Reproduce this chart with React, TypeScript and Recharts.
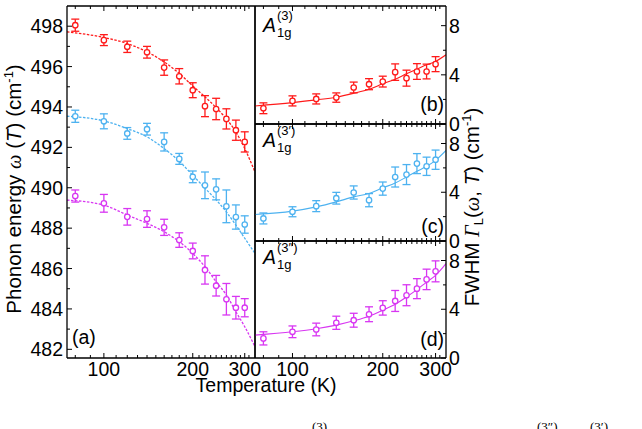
import React from 'react';
import { ComposedChart, XAxis, YAxis, Scatter, Line, ErrorBar } from 'recharts';

const SANS = '"Liberation Sans", Arial, sans-serif';
const SERIF = '"Liberation Serif", "Times New Roman", serif';

const RED = '#ff1a1a';
const BLUE = '#4db2f0';
const MAGENTA = '#d836f2';

// Measured temperatures (K)
const temps = [80, 100, 120, 140, 160, 180, 200, 220, 240, 260, 280, 300];
// Temperatures at which the fitted curves are sampled
const fitTemps = [75, 100, 120, 140, 160, 180, 200, 220, 240, 260, 280, 300, 325];

// Phonon energy omega(T), cm^-1
const omega3 = [498.05, 497.31, 496.98, 496.71, 495.95, 495.52, 494.83, 494.04, 493.9, 493.41, 492.85, 492.27];
const omega3Err = [0.3, 0.27, 0.28, 0.29, 0.38, 0.38, 0.37, 0.52, 0.53, 0.5, 0.5, 0.5];
const omega3Fit = [497.72, 497.44, 497.14, 496.73, 496.23, 495.66, 495.04, 494.5, 493.97, 493.41, 492.76, 491.94, 490.78];

const omega3p = [493.54, 493.29, 492.69, 492.9, 492.27, 491.43, 490.54, 490.12, 489.92, 489.08, 488.55, 488.18];
const omega3pErr = [0.3, 0.37, 0.29, 0.29, 0.45, 0.27, 0.29, 0.66, 0.52, 0.81, 0.6, 0.43];
const omega3pFit = [493.54, 493.31, 492.93, 492.52, 491.94, 491.31, 490.62, 489.98, 489.4, 488.8, 488.15, 487.5, 486.75];

const omega3pp = [489.59, 489.23, 488.56, 488.45, 488.04, 487.41, 486.87, 485.93, 485.15, 484.48, 484.06, 484.06];
const omega3ppErr = [0.3, 0.44, 0.41, 0.41, 0.4, 0.36, 0.39, 0.7, 0.51, 0.78, 0.56, 0.45];
const omega3ppFit = [489.39, 489.14, 488.65, 488.24, 487.82, 487.33, 486.75, 486.09, 485.35, 484.69, 483.86, 483.12, 482.13];

// Linewidth (FWHM), cm^-1
const gamma3 = [1.28, 1.88, 2.04, 2.15, 2.97, 3.24, 3.45, 4.22, 3.73, 4.27, 4.27, 4.87];
const gamma3Err = [0.44, 0.41, 0.41, 0.38, 0.44, 0.45, 0.44, 0.67, 0.65, 0.64, 0.6, 0.61];
const gamma3Fit = [1.47, 1.74, 1.96, 2.18, 2.5, 2.83, 3.27, 3.65, 4.08, 4.46, 4.82, 5.09, 5.63];

const gamma3p = [1.85, 2.4, 2.86, 3.51, 3.98, 3.35, 4.3, 5.25, 5.45, 6.35, 6.13, 6.67];
const gamma3pErr = [0.45, 0.41, 0.45, 0.48, 0.54, 0.54, 0.54, 0.82, 0.82, 0.82, 0.75, 0.79];
const gamma3pFit = [2.18, 2.45, 2.8, 3.21, 3.62, 3.9, 4.36, 4.76, 5.25, 5.72, 6.13, 6.62, 7.43];

const gamma3pp = [1.61, 2.15, 2.34, 2.89, 3.1, 3.59, 4.11, 4.68, 5.15, 5.69, 6.45, 7.11];
const gamma3ppErr = [0.54, 0.48, 0.52, 0.54, 0.57, 0.61, 0.59, 0.86, 0.86, 0.82, 0.84, 0.86];
const gamma3ppFit = [1.88, 2.15, 2.4, 2.7, 3.05, 3.43, 3.92, 4.41, 5.01, 5.61, 6.23, 6.78, 7.74];

// Axis ticks
const tempTicks = [80, 90, 100, 110, 120, 130, 140, 150, 160, 170, 180, 190, 200, 210, 220, 230, 240, 250, 260, 270, 280, 290, 300, 310];
const tempLabels = [100, 200, 300];
const omegaTicks = [482, 483, 484, 485, 486, 487, 488, 489, 490, 491, 492, 493, 494, 495, 496, 497, 498];
const omegaLabels = [482, 484, 486, 488, 490, 492, 494, 496, 498];
const gammaTicks = [0, 2, 4, 6, 8];
const gammaLabels = [0, 4, 8];

const T_DOMAIN: [number, number] = [75, 325];
const OMEGA_DOMAIN: [number, number] = [481.57, 499];
const GAMMA_DOMAIN: [number, number] = [0, 9.6];

const FS = 19.5; // tick labels and panel tags
const FS_TITLE = 20.5; // axis titles

type Row = { T: number; v: number; e: number };
const toRows = (t: number[], v: number[], e?: number[]): Row[] =>
  t.map((T, i) => ({ T, v: v[i], e: e ? e[i] : 0 }));

const AXIS_LINE = { stroke: '#000', strokeWidth: 1.3 };

const ring = (color: string) => (p: any) =>
  <circle cx={p.cx} cy={p.cy} r={2.7} fill="#fff" stroke={color} strokeWidth={1.3} />;

const BottomTick = (p: any) => {
  const major = tempLabels.includes(p.payload.value);
  return (
    <g>
      <path d={`M${p.x},${p.y}V${p.y - (major ? 5 : 3)}`} stroke="#000" strokeWidth={1} fill="none" />
      {p.showLabels && major && (
        <text x={p.x} y={p.y + 18} textAnchor="middle" fontSize={FS} fontFamily={SANS} fill="#000">
          {p.payload.value}
        </text>
      )}
    </g>
  );
};

const TopTick = (p: any) => {
  const major = tempLabels.includes(p.payload.value);
  return <path d={`M${p.x},${p.y}V${p.y + (major ? 5 : 3)}`} stroke="#000" strokeWidth={1} fill="none" />;
};

const LeftTick = (p: any) => {
  const major = omegaLabels.includes(p.payload.value);
  return (
    <g>
      <path d={`M${p.x},${p.y}H${p.x + (major ? 5 : 3)}`} stroke="#000" strokeWidth={1} fill="none" />
      {major && (
        <text x={p.x - 4} y={p.y + 7} textAnchor="end" fontSize={FS} fontFamily={SANS} fill="#000">
          {p.payload.value}
        </text>
      )}
    </g>
  );
};

const RightTick = (p: any) => {
  const major = gammaLabels.includes(p.payload.value);
  return (
    <g>
      <path d={`M${p.x},${p.y}H${p.x - (major ? 5 : 3)}`} stroke="#000" strokeWidth={1} fill="none" />
      {major && (
        <text x={p.x + 3} y={p.y + 7} textAnchor="start" fontSize={FS} fontFamily={SANS} fill="#000">
          {p.payload.value}
        </text>
      )}
    </g>
  );
};

type Series = { color: string; v: number[]; e: number[]; fit: number[] };

const omegaSeries: Series[] = [
  { color: RED, v: omega3, e: omega3Err, fit: omega3Fit },
  { color: BLUE, v: omega3p, e: omega3pErr, fit: omega3pFit },
  { color: MAGENTA, v: omega3pp, e: omega3ppErr, fit: omega3ppFit },
];

// Left panel: plot area x 67..255, y 6..358
function EnergyPanel() {
  return (
    <ComposedChart width={262} height={429} margin={{ top: 5, right: 6, bottom: 0, left: 0 }}>
      <XAxis xAxisId="b" dataKey="T" type="number" scale="log" domain={T_DOMAIN} allowDataOverflow
        ticks={tempTicks} interval={0} height={71} tickSize={0} tickMargin={0} stroke="#000"
        axisLine={AXIS_LINE} tick={<BottomTick showLabels />} />
      <XAxis xAxisId="t" orientation="top" dataKey="T" type="number" scale="log" domain={T_DOMAIN} allowDataOverflow
        ticks={tempTicks} interval={0} height={1} tickSize={0} tickMargin={0} stroke="#000"
        axisLine={AXIS_LINE} tick={<TopTick />} />
      <YAxis yAxisId="l" type="number" domain={OMEGA_DOMAIN} allowDataOverflow ticks={omegaTicks} interval={0}
        width={67} tickSize={0} tickMargin={0} stroke="#000" axisLine={AXIS_LINE} tick={<LeftTick />} />
      <YAxis yAxisId="r" orientation="right" type="number" domain={OMEGA_DOMAIN} allowDataOverflow
        ticks={[490]} width={1} tickSize={0} stroke="#000" axisLine={AXIS_LINE} tick={false} />
      {omegaSeries.map((s, i) => (
        <Line key={'f' + i} xAxisId="b" yAxisId="l" data={toRows(fitTemps, s.fit)} dataKey="v" type="monotone"
          stroke={s.color} strokeWidth={1.3} strokeDasharray="2.5 1.5" dot={false} isAnimationActive={false} />
      ))}
      {omegaSeries.map((s, i) => (
        <Scatter key={'p' + i} xAxisId="b" yAxisId="l" data={toRows(temps, s.v, s.e)} dataKey="v"
          shape={ring(s.color)} isAnimationActive={false}>
          <ErrorBar dataKey="e" direction="y" width={4} stroke={s.color} strokeWidth={1.3} />
        </Scatter>
      ))}
    </ComposedChart>
  );
}

// Right panels: plot area x 255..446, y top..bottom
function WidthPanel({ top, bottom, series, showLabels }: { top: number; bottom: number; series: Series; showLabels: boolean }) {
  const xHeight = showLabels ? 429 - bottom : 1;
  return (
    <ComposedChart width={642} height={429}
      margin={{ top: top - 1, right: 156, bottom: showLabels ? 0 : 429 - bottom - 1, left: 254 }}>
      <XAxis xAxisId="b" dataKey="T" type="number" scale="log" domain={T_DOMAIN} allowDataOverflow
        ticks={tempTicks} interval={0} height={xHeight} tickSize={0} tickMargin={0} stroke="#000"
        axisLine={AXIS_LINE} tick={<BottomTick showLabels={showLabels} />} />
      <XAxis xAxisId="t" orientation="top" dataKey="T" type="number" scale="log" domain={T_DOMAIN} allowDataOverflow
        ticks={tempTicks} interval={0} height={1} tickSize={0} tickMargin={0} stroke="#000"
        axisLine={AXIS_LINE} tick={<TopTick />} />
      <YAxis yAxisId="r" orientation="right" type="number" domain={GAMMA_DOMAIN} allowDataOverflow
        ticks={gammaTicks} interval={0} width={40} tickSize={0} tickMargin={0} stroke="#000"
        axisLine={AXIS_LINE} tick={<RightTick />} />
      <YAxis yAxisId="l" type="number" domain={GAMMA_DOMAIN} allowDataOverflow ticks={[4]} width={1}
        tickSize={0} stroke="#000" axisLine={AXIS_LINE} tick={false} />
      <Line xAxisId="b" yAxisId="r" data={toRows(fitTemps, series.fit)} dataKey="v" type="monotone"
        stroke={series.color} strokeWidth={1.1} dot={false} isAnimationActive={false} />
      <Scatter xAxisId="b" yAxisId="r" data={toRows(temps, series.v, series.e)} dataKey="v"
        shape={ring(series.color)} isAnimationActive={false}>
        <ErrorBar dataKey="e" direction="y" width={4} stroke={series.color} strokeWidth={1.3} />
      </Scatter>
    </ComposedChart>
  );
}

const ModeLabel = ({ x, y, prime }: { x: number; y: number; prime: string }) => (
  <text x={x} y={y} fontFamily={SANS} fill="#000">
    <tspan fontSize={FS} fontStyle="italic">A</tspan>
    <tspan fontSize={13} dx={1} dy={5}>1g</tspan>
    <tspan fontSize={13} x={x + 14} dy={-17}>{`(3${prime})`}</tspan>
  </text>
);

const layer: React.CSSProperties = { position: 'absolute', left: 0, top: 0 };

export default function App() {
  return (
    <div style={{ position: 'absolute', left: 0, top: 0, width: 642, height: 429, background: '#fff', overflow: 'hidden' }}>
      <div style={layer}><EnergyPanel /></div>
      <div style={layer}>
        <WidthPanel top={6} bottom={124} showLabels={false}
          series={{ color: RED, v: gamma3, e: gamma3Err, fit: gamma3Fit }} />
      </div>
      <div style={layer}>
        <WidthPanel top={124} bottom={241} showLabels={false}
          series={{ color: BLUE, v: gamma3p, e: gamma3pErr, fit: gamma3pFit }} />
      </div>
      <div style={layer}>
        <WidthPanel top={241} bottom={358} showLabels
          series={{ color: MAGENTA, v: gamma3pp, e: gamma3ppErr, fit: gamma3ppFit }} />
      </div>
      <svg width={642} height={429} style={{ ...layer, pointerEvents: 'none' }}>
        {/* axis titles */}
        <text transform="translate(21,189) rotate(-90)" textAnchor="middle" fontSize={FS_TITLE} fontFamily={SANS} fill="#000">
          Phonon energy <tspan fontFamily={SERIF} fontStyle="italic">ω</tspan> (<tspan fontStyle="italic">T</tspan>) (cm
          <tspan fontSize={13} dy={-8}>-1</tspan><tspan dy={8}>)</tspan>
        </text>
        <text transform="translate(479,207) rotate(-90)" textAnchor="middle" fontSize={FS_TITLE} fontFamily={SANS} fill="#000">
          FWHM <tspan fontFamily={SERIF} fontStyle="italic">Γ</tspan><tspan fontSize={13} dy={4}>L</tspan>
          <tspan dy={-4}>(</tspan><tspan fontFamily={SERIF} fontStyle="italic">ω</tspan>, <tspan fontStyle="italic">T</tspan>) (cm
          <tspan fontSize={13} dy={-8}>-1</tspan><tspan dy={8}>)</tspan>
        </text>
        <text x={266} y={392} textAnchor="middle" fontSize={FS} fontFamily={SANS} fill="#000">Temperature (K)</text>
        {/* panel tags */}
        <text x={72} y={344} fontSize={FS} fontFamily={SANS} fill="#000">(a)</text>
        <text x={444} y={111} textAnchor="end" fontSize={FS} fontFamily={SANS} fill="#000">(b)</text>
        <text x={444} y={233} textAnchor="end" fontSize={FS} fontFamily={SANS} fill="#000">(c)</text>
        <text x={444} y={346} textAnchor="end" fontSize={FS} fontFamily={SANS} fill="#000">(d)</text>
        {/* mode names */}
        <ModeLabel x={263} y={31.5} prime="" />
        <ModeLabel x={263} y={147} prime="′" />
        <ModeLabel x={263} y={264} prime="″" />
        {/* superscripts of the caption line below */}
        <text x={312} y={431} fontSize={13} fontFamily={SERIF} fill="#000">(3)</text>
        <text x={537} y={431} fontSize={13} fontFamily={SERIF} fill="#000">(3″)</text>
        <text x={590} y={431} fontSize={13} fontFamily={SERIF} fill="#000">(3′)</text>
      </svg>
    </div>
  );
}
